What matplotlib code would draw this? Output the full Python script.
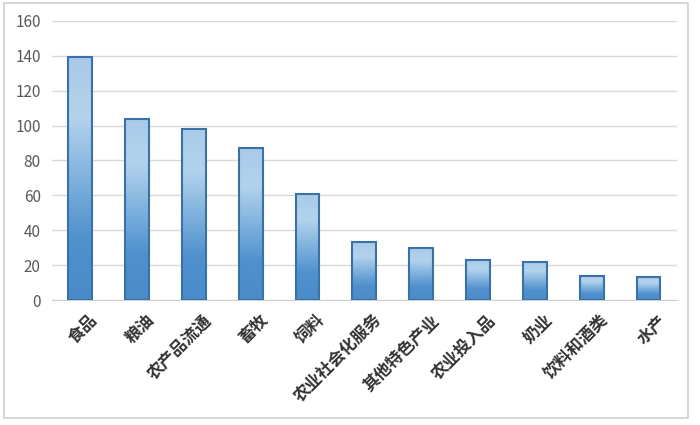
import numpy as np
import matplotlib
matplotlib.use('Agg')
import matplotlib.pyplot as plt
import matplotlib.transforms as mtransforms
from matplotlib.colors import LinearSegmentedColormap
from matplotlib.patches import Rectangle

plt.rcParams['font.family'] = ['Noto Sans CJK SC', 'DejaVu Sans']

categories = ['食品', '粮油', '农产品流通', '畜牧', '饲料', '农业社会化服务',
              '其他特色产业', '农业投入品', '奶业', '饮料和酒类', '水产']
values = [139, 104, 98, 87, 61, 33, 30, 23, 22, 14, 13]

fig = plt.figure(figsize=(7, 4.25), dpi=100)
ax = fig.add_axes([0.074, 0.294, 0.893, 0.657])

# border around the whole chart
fig.patches.append(Rectangle((0.006, 0.016), 0.977, 0.976, transform=fig.transFigure,
                             fill=False, edgecolor='#d0d0d0', linewidth=1.2))

grad = LinearSegmentedColormap.from_list('g', ['#4a8bca', '#4f90cd', '#7fb2de', '#b3d2ec', '#a9cbe9'])
x = np.arange(len(categories))
bars = ax.bar(x, values, width=0.42, facecolor='none', edgecolor='#3a72a8', linewidth=1.5, zorder=3)
img = np.linspace(0, 1, 256).reshape(-1, 1)
for b in bars:
    x0, w, h = b.get_x(), b.get_width(), b.get_height()
    im = ax.imshow(img, cmap=grad, aspect='auto', origin='lower',
                   extent=[x0, x0 + w, 0, h], zorder=2)
    im.set_clip_path(b)

ax.set_xlim(-0.5, len(categories) - 0.5)
ax.set_ylim(0, 160)
ax.set_yticks(range(0, 161, 20))
ax.yaxis.grid(True, color='#d9d9d9', linewidth=1)
ax.set_axisbelow(True)
for s in ['top', 'right', 'left']:
    ax.spines[s].set_visible(False)
ax.spines['bottom'].set_color('#d0d0d0')
ax.tick_params(axis='y', length=0, labelsize=11, labelcolor='#595959', pad=8)
ax.tick_params(axis='x', length=0, pad=8)
ax.set_xticks(x)
ax.set_xticklabels(categories, rotation=45, ha='right', rotation_mode='anchor',
                   fontsize=12, fontweight='bold', color='#333333')

# nudge the rotated labels a little to the right, as in the original
shift = mtransforms.ScaledTranslation(6 / 72, 0, fig.dpi_scale_trans)
for lab in ax.get_xticklabels():
    lab.set_transform(lab.get_transform() + shift)

fig.savefig('out.png', dpi=100)
